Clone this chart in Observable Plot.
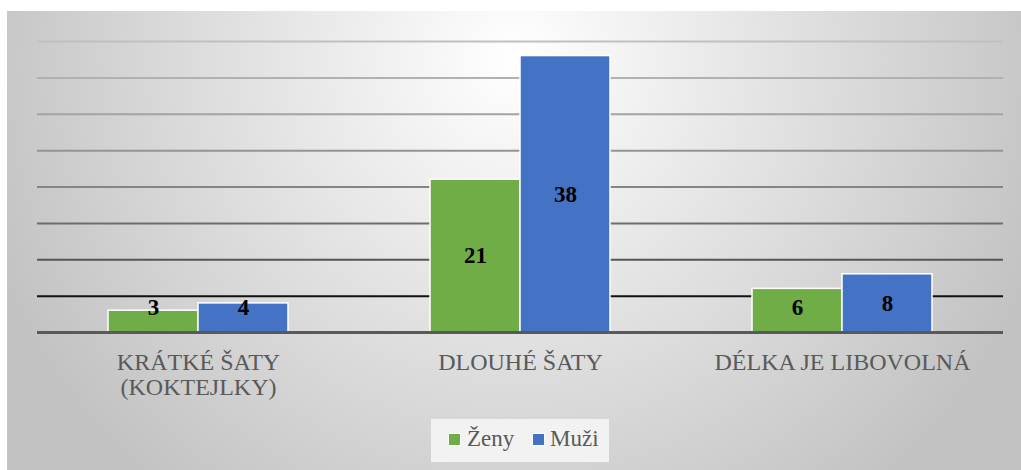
<!DOCTYPE html>
<html>
<head>
<meta charset="utf-8">
<script src="https://cdn.jsdelivr.net/npm/d3@7"></script>
<script src="https://cdn.jsdelivr.net/npm/@observablehq/plot@0.6"></script>
<style>
  html, body { margin: 0; padding: 0; background: #ffffff; }
  #wrap { position: relative; width: 1021px; height: 470px; overflow: hidden; }
  #legend { position: absolute; left: 431px; top: 419px; width: 178px; height: 43px; background: #f2f2f2;
            font-family: "Liberation Serif", Tinos, "Times New Roman", Times, "DejaVu Serif", serif; font-size: 23px; color: #595959; }
  #legend .sw { position: absolute; width: 11px; height: 11px; border: 1.5px solid #ffffff; top: 14px; }
  #legend .lb { position: absolute; top: 5px; line-height: 30px; }
</style>
</head>
<body>
<div id="wrap"></div>
<script>
const categories = ["KRÁTKÉ ŠATY\n(KOKTEJLKY)", "DLOUHÉ ŠATY", "DÉLKA JE LIBOVOLNÁ"];
const series = ["Ženy", "Muži"];
const zenyValues = [3, 21, 6];
const muziValues = [4, 38, 8];
const yTicks = [0, 5, 10, 15, 20, 25, 30, 35, 40];
const seriesColors = ["#70ad47", "#4472c4"];

const data = [];
categories.forEach((c, i) => {
  data.push({cat: c, series: "Ženy", value: zenyValues[i]});
  data.push({cat: c, series: "Muži", value: muziValues[i]});
});

const gridColor = d3.scaleLinear().domain([5, 10, 20, 40]).range(["#111111", "#555555", "#858585", "#c0c0c0"]);
const serif = "'Liberation Serif', Tinos, 'Times New Roman', Times, 'DejaVu Serif', serif";

const chart = Plot.plot({
  width: 1021,
  height: 470,
  marginLeft: 37,
  marginRight: 18,
  marginTop: 41,
  marginBottom: 138,
  style: {background: "transparent", overflow: "visible", fontFamily: serif},
  fx: {domain: categories, padding: 0, axis: null},
  x: {domain: series, paddingInner: 0, paddingOuter: 0.77, axis: null},
  y: {domain: [0, 40], axis: null},
  color: {domain: series, range: seriesColors},
  marks: [
    Plot.ruleY(yTicks.filter(t => t > 0), {y: d => d, stroke: d => gridColor(d), strokeWidth: 2}),
    Plot.barY(data, {fx: "cat", x: "series", y: "value", fill: "series", stroke: "#ffffff", strokeWidth: 1.5}),
    Plot.ruleY([0], {stroke: "#595959", strokeWidth: 3}),
    Plot.text(data, {fx: "cat", x: "series", y: d => Math.max(d.value / 2, 3.4), text: d => String(d.value),
      fontFamily: serif, fontWeight: "bold", fontSize: 23, fill: "#000000"}),
    Plot.text(categories, {fx: d => d, text: d => d, frameAnchor: "bottom", lineAnchor: "top", dy: 19,
      lineHeight: 1.06, fontFamily: serif, fontSize: 24, fill: "#595959"})
  ]
});

// background panel with radial gradient
const svg = d3.select(chart);
const defs = svg.insert("defs", ":first-child");
const grad = defs.append("radialGradient").attr("id", "bgGrad")
  .attr("gradientUnits", "userSpaceOnUse").attr("cx", 515).attr("cy", 60).attr("r", 560);
grad.append("stop").attr("offset", 0).attr("stop-color", "#ffffff");
grad.append("stop").attr("offset", 1).attr("stop-color", "#c2c2c2");
svg.insert("rect", "defs + *").attr("x", 7).attr("y", 11).attr("width", 1014).attr("height", 459)
  .attr("fill", "url(#bgGrad)");

const wrap = document.getElementById("wrap");
wrap.appendChild(chart);

const legend = document.createElement("div");
legend.id = "legend";
legend.innerHTML =
  `<span class="sw" style="left:17px;background:${seriesColors[0]}"></span><span class="lb" style="left:36px">${series[0]}</span>` +
  `<span class="sw" style="left:101px;background:${seriesColors[1]}"></span><span class="lb" style="left:119px">${series[1]}</span>`;
wrap.appendChild(legend);
</script>
</body>
</html>
